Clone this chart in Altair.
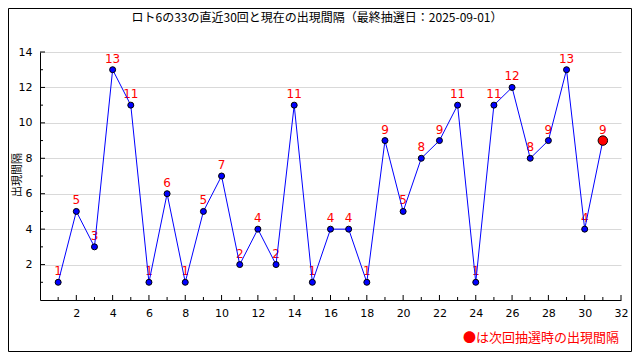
import altair as alt
import pandas as pd

draws = list(range(1, 32))
intervals = [1, 5, 3, 13, 11, 1, 6, 1, 5, 7, 2, 4, 2, 11, 1, 4, 4, 1, 9, 5,
             8, 9, 11, 1, 11, 12, 8, 9, 13, 4, 9]
x_major = list(range(2, 33, 2))
x_minor = list(range(1, 32, 2))
y_major = list(range(2, 15, 2))
y_minor = list(range(1, 14, 2))
title_text = "ロト6の33の直近30回と現在の出現間隔（最終抽選日：2025-09-01）"
y_title = "出現間隔"
note_text = "●は次回抽選時の出現間隔"

W, H = 581, 248
JP = "Noto Sans CJK JP"
NUM = "DejaVu Sans"

df = pd.DataFrame({"draw": draws, "interval": intervals})
df["current"] = [i == len(draws) - 1 for i in range(len(draws))]

xs = alt.Scale(domain=[0, 32], nice=False, zero=False)
ys = alt.Scale(domain=[0, 14], nice=False, zero=False)
xaxis = alt.Axis(
    values=x_major, title=None, ticks=False, tickSize=0, grid=False,
    domainColor="black", labelFont=NUM, labelFontSize=11, labelColor="black",
    labelPadding=7, labelFlush=False)
yaxis = alt.Axis(
    values=y_major, title=None, ticks=False, tickSize=0, grid=True,
    gridColor="#d9d9d9", domainColor="black", labelFont=NUM, labelFontSize=11,
    labelColor="black", labelPadding=8, labelFlush=False)

def X(f="draw"):
    return alt.X(f + ":Q", scale=xs, axis=xaxis)

def Y(f="interval"):
    return alt.Y(f + ":Q", scale=ys, axis=yaxis)

base = alt.Chart(df)
line = base.mark_line(color="#0000ff", strokeWidth=1).encode(x=X(), y=Y())
labels = base.mark_text(dy=-11, color="#ff0000", fontSize=12, font=NUM).encode(
    x=X(), y=Y(), text="interval:Q")
pts = base.transform_filter("!datum.current").mark_circle(
    size=36, color="#0000ff", stroke="black", strokeWidth=1, opacity=1).encode(
    x=X(), y=Y())
cur = base.transform_filter("datum.current").mark_circle(
    size=90, color="#ff0000", stroke="black", strokeWidth=1, opacity=1).encode(
    x=X(), y=Y())

def tick_rules(vals, ch, length):
    d = pd.DataFrame({"v": vals})
    if ch == "y":
        return alt.Chart(d).mark_rule(color="black", strokeWidth=1).encode(
            y=Y("v"), x=alt.value(0), x2=alt.value(length))
    return alt.Chart(d).mark_rule(color="black", strokeWidth=1).encode(
        x=X("v"), y=alt.value(H), y2=alt.value(H - length))

ticks = [tick_rules(y_major, "y", 5), tick_rules(y_minor, "y", 3),
         tick_rules(x_major, "x", 5), tick_rules(x_minor, "x", 3)]

one = pd.DataFrame({"t": [title_text], "yl": [y_title], "n": [note_text]})
title = alt.Chart(one).mark_text(font=JP, fontSize=12, color="black", align="center",
                                 baseline="middle").encode(
    text="t:N", x=alt.value(277), y=alt.value(-34))
ylab = alt.Chart(one).mark_text(font=JP, fontSize=11, color="black", align="center",
                                baseline="middle", angle=270).encode(
    text="yl:N", x=alt.value(-22.5), y=alt.value(123))
note = alt.Chart(one).mark_text(font=JP, fontSize=13, color="#ff0000", align="right",
                                baseline="middle").encode(
    text="n:N", x=alt.value(579), y=alt.value(286))
border = alt.Chart(one).mark_rect(fillOpacity=0, stroke="black", strokeWidth=1).encode(
    x=alt.value(-31.5), x2=alt.value(591.5), y=alt.value(-43.5), y2=alt.value(299.5))

chart = alt.layer(labels, *ticks, line, pts, cur, title, ylab, note, border).properties(
    width=W, height=H, background="white",
    autosize=alt.AutoSizeParams(type="none"),
    padding={"left": 32, "top": 44, "right": 11, "bottom": 52},
).configure_view(stroke=None)

chart.save("out.html", embed_options={"renderer": "svg", "actions": False})
